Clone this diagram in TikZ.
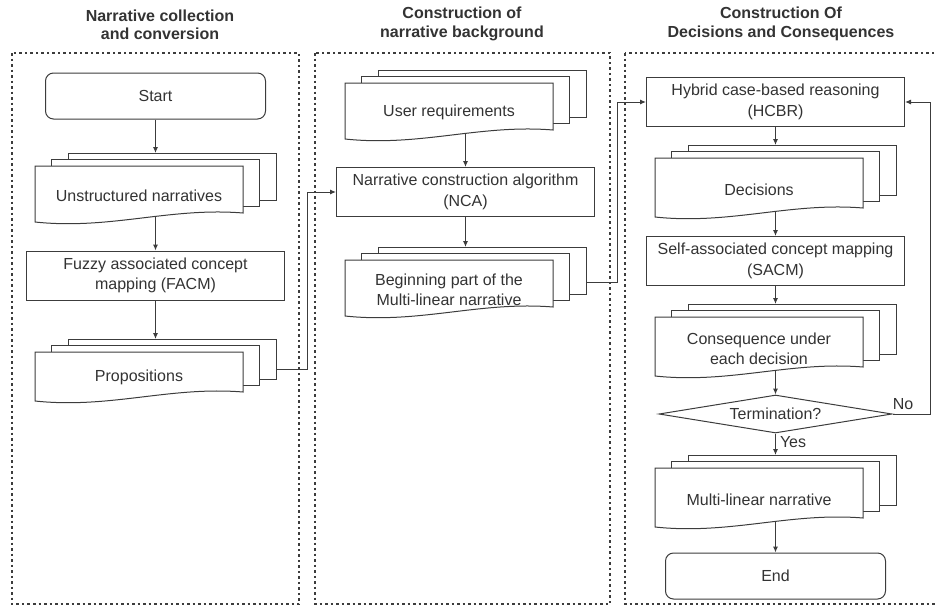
\documentclass[tikz,border=0pt]{standalone}
\usepackage{fontspec}
\setmainfont{Liberation Sans}
\usetikzlibrary{arrows.meta,shapes.geometric}

\definecolor{ink}{HTML}{3C3C3C}
\definecolor{txt}{HTML}{333333}

\tikzset{
  box/.style={draw=ink, line width=1pt, fill=white, minimum width=258pt,
    minimum height=49pt, inner sep=0pt, align=center,
    font=\fontsize{16}{20.5}\selectfont, text=txt},
  terminal/.style={box, rounded corners=8pt, minimum width=220pt, minimum height=46pt},
  decision/.style={draw=ink, line width=1pt, fill=white, shape=diamond, aspect=6.1,
    minimum width=233pt, minimum height=38pt, inner sep=0pt,
    font=\fontsize{16}{20}\selectfont, text=txt},
  sheet/.style={draw=ink, line width=1pt, fill=white},
  doclabel/.style={font=\fontsize{16}{20}\selectfont, text=txt, align=center, inner sep=0pt},
  flow/.style={draw=ink, line width=1pt, -{Latex[length=6pt,width=5pt]}},
  lane/.style={draw=ink, line width=1.1pt, dash pattern=on 2.5pt off 3pt},
  heading/.style={font=\bfseries\fontsize{16}{18.5}\selectfont, text=txt, align=center},
}

% stacked documents: name, left x, top y of front sheet, sheet height, text
\newcommand{\mdoc}[5]{%
  \begin{scope}[shift={(#2,#3)}]
    \path[sheet] (33,-13) rectangle (241,#4-13);
    \path[sheet] (16.5,-6.5) rectangle (224.5,#4-6.5);
    \path[sheet] (0,#4+9) -- (0,0) -- (208,0) -- (208,#4)
      .. controls (135,#4-6) and (75,#4+17) .. (0,#4+9) -- cycle;
    \node[doclabel] (#1) at (104,0.63*#4) {#5};
    \coordinate (#1-in) at (120.5,-13);
    \coordinate (#1-out) at (120.5,#4+4);
    \coordinate (#1-e) at (241,0.75*#4-13);
  \end{scope}}

\begin{document}
\begin{tikzpicture}[x=1pt,y=-1pt]
  \useasboundingbox (0,0) rectangle (935,606);
  \clip (0,0) rectangle (935,606);

  % lanes
  \draw[lane] (12,53) rectangle (299,604);
  \draw[lane] (315,53) rectangle (610,604);
  \draw[lane] (625,53) rectangle (960,604);

  \node[heading] (h1) at (160,25) {Narrative collection\\and conversion};
  \node[heading] (h2) at (462,24) {Construction of\\narrative background};
  \node[heading] (h3) at (781,24) {Construction Of\\Decisions and Consequences};

  % lane 1
  \node[terminal] (start) at (155.5,96) {Start};
  \mdoc{unstr}{35}{166}{47}{Unstructured narratives}
  \node[box] (facm) at (155.5,275.5) {Fuzzy associated concept\\mapping (FACM)};
  \mdoc{prop}{35}{352}{40}{Propositions}

  % lane 2
  \mdoc{user}{345}{83}{47}{User requirements}
  \node[box] (nca) at (465.5,192) {Narrative construction algorithm\\(NCA)};
  \mdoc{beg}{345}{260}{47}{Beginning part of the\\Multi-linear narrative}

  % lane 3
  \node[box] (hcbr) at (775.5,102) {Hybrid case-based reasoning\\(HCBR)};
  \mdoc{dec}{655}{158}{50}{Decisions}
  \node[box] (sacm) at (775.5,261) {Self-associated concept mapping\\(SACM)};
  \mdoc{cons}{655}{317}{50}{Consequence under\\each decision}
  \node[decision] (term) at (775.5,414) {Termination?};
  \mdoc{multi}{655}{468}{50}{Multi-linear narrative}
  \node[terminal] (end) at (775.5,576) {End};

  % connectors
  \draw[flow] (start.south) -- (unstr-in);
  \draw[flow] (unstr-out) -- (facm.north);
  \draw[flow] (facm.south) -- (prop-in);
  \draw[flow] (prop-e) -- ++(31,0) |- (nca.west);

  \draw[flow] (user-out) -- (nca.north);
  \draw[flow] (nca.south) -- (beg-in);
  \draw[flow] (beg-e) -- ++(31,0) |- (hcbr.west);

  \draw[flow] (hcbr.south) -- (dec-in);
  \draw[flow] (dec-out) -- (sacm.north);
  \draw[flow] (sacm.south) -- (cons-in);
  \draw[flow] (cons-out) -- (term.north);
  \draw[flow] (term.south) -- node[doclabel, right=4pt, pos=0.4] (yes) {Yes} (multi-in);
  \draw[flow] (term.east) -- ++(38,0) coordinate (loop) |- (hcbr.east);
  \node[doclabel, anchor=south] (no) at (903,410) {No};
  \draw[flow] (multi-out) -- (end.north);
\end{tikzpicture}
\end{document}
